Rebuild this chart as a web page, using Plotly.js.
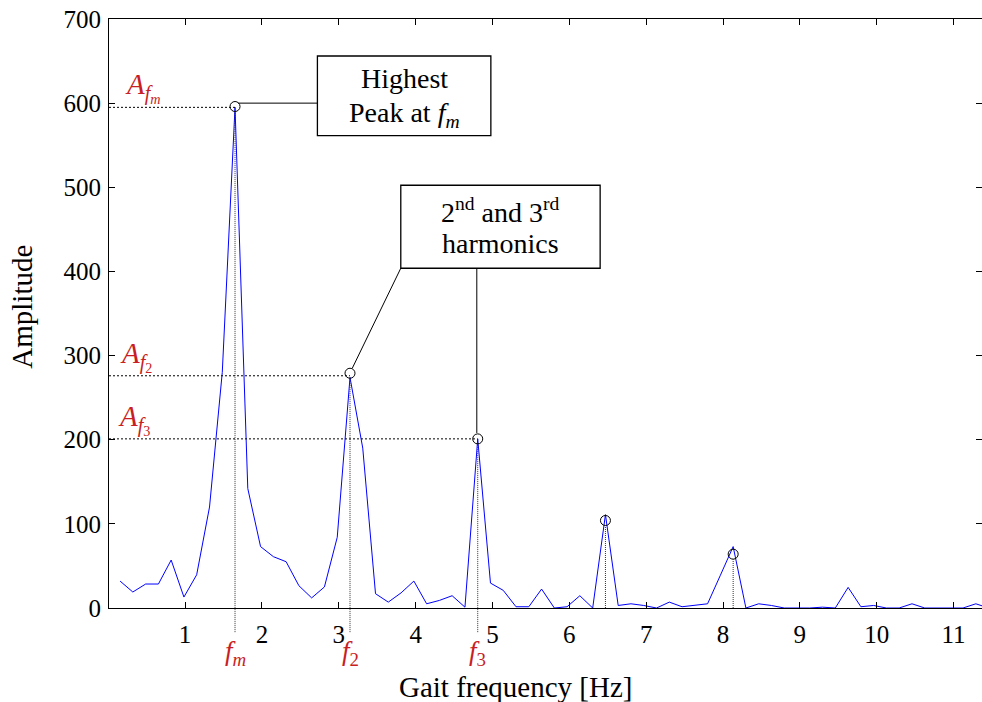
<!DOCTYPE html>
<html>
<head>
<meta charset="utf-8">
<script src="https://cdn.plot.ly/plotly-3.0.1.min.js"></script>
<style>
  html, body { margin: 0; padding: 0; background: #fff; }
  #chart { width: 982px; height: 702px; }
</style>
</head>
<body>
<div id="chart"></div>
<script>
// Gait spectrum: amplitude per frequency bin (Hz)
const freqHz = [
  0.154, 0.320, 0.487, 0.653, 0.819, 0.985, 1.151, 1.318, 1.484, 1.650,
  1.816, 1.982, 2.149, 2.315, 2.481, 2.647, 2.813, 2.980, 3.146, 3.312,
  3.478, 3.644, 3.811, 3.977, 4.143, 4.309, 4.475, 4.642, 4.808, 4.974,
  5.140, 5.306, 5.473, 5.639, 5.805, 5.971, 6.137, 6.304, 6.470, 6.636,
  6.802, 6.968, 7.135, 7.301, 7.467, 7.633, 7.799, 7.966, 8.132, 8.298,
  8.464, 8.630, 8.797, 8.963, 9.129, 9.295, 9.461, 9.628, 9.794, 9.960,
  10.126, 10.292, 10.459, 10.625, 10.791, 10.957, 11.123, 11.290, 11.456
];
const amplitude = [
  32, 19, 28.5, 28.5, 57, 13, 39.5, 120, 280, 595,
  142, 73, 61, 55, 26.5, 12, 25, 84, 274, 190,
  17, 7, 18, 32, 5, 9, 14.6, 1, 201, 29.6,
  21, 1.5, 1.5, 22.5, 0, 1.5, 14.6, 0, 111, 3,
  5, 3, 0, 7, 1.5, 3, 5, 39, 73, 0,
  5, 3, 0, 0, 0, 1, 0, 24.5, 1.5, 3,
  0, 0, 5, 0, 0, 0, 0, 5, 0
];

// Detected peaks (fundamental and harmonics)
const peakFreq = [1.650, 3.146, 4.808, 6.470, 8.132];
const peakAmp  = [596, 279, 201, 104, 64];
// Amplitude levels marked for the first three peaks
const levelAmp = [595, 276, 201];
const freqLabels = ['<i>f</i><sub><i>m</i></sub>', '<i>f</i><sub>2</sub>', '<i>f</i><sub>3</sub>'];
const ampLabels  = [
  '<i>A</i><sub><i>f</i><sub><i>m</i></sub></sub>',
  '<i>A</i><sub><i>f</i><sub>2</sub></sub>',
  '<i>A</i><sub><i>f</i><sub>3</sub></sub>'
];
const yTicks = [0, 100, 200, 300, 400, 500, 600, 700];
const xTicks = [1, 2, 3, 4, 5, 6, 7, 8, 9, 10, 11];

const SERIF = 'Times New Roman';
const RED = '#c81e24';
const xRange = [0.01, 11.37];

const traces = [
  {
    x: freqHz, y: amplitude, type: 'scatter', mode: 'lines',
    line: { color: '#0000ff', width: 1 }, hoverinfo: 'x+y'
  },
  {
    x: peakFreq, y: peakAmp, type: 'scatter', mode: 'markers',
    marker: { symbol: 'circle-open', size: 10, color: '#000', line: { width: 1, color: '#000' } },
    hoverinfo: 'x+y'
  }
];

const shapes = [];
const annotations = [];

// Dotted guides for the first three peaks: horizontal to the y axis, vertical below the x axis
for (let i = 0; i < 3; i++) {
  shapes.push({
    type: 'line', xref: 'x', yref: 'y',
    x0: xRange[0], x1: peakFreq[i], y0: levelAmp[i], y1: levelAmp[i],
    line: { color: '#000', width: 1, dash: '2px,2px' }
  });
  shapes.push({
    type: 'line', xref: 'x', yref: 'paper',
    x0: peakFreq[i], x1: peakFreq[i], y0: -0.041, y1: (peakAmp[i] - 6) / 700,
    line: { color: '#333', width: 1, dash: '1px,1px' }
  });
  annotations.push({
    xref: 'x', yref: 'paper', x: peakFreq[i], y: -0.076,
    text: freqLabels[i], showarrow: false, xanchor: 'center', yanchor: 'middle',
    font: { family: SERIF, size: 27, color: RED }
  });
}
// Amplitude labels above the dotted levels
const ampLabelX = [0.016, 0.010, 0.008];
for (let i = 0; i < 3; i++) {
  annotations.push({
    xref: 'paper', yref: 'y', x: ampLabelX[i], y: levelAmp[i],
    text: ampLabels[i], showarrow: false, xanchor: 'left', yanchor: 'bottom',
    yshift: -2,
    font: { family: SERIF, size: 29, color: RED }
  });
}
// Vertical dotted guides for the higher harmonics
for (let i = 3; i < 5; i++) {
  shapes.push({
    type: 'line', xref: 'x', yref: 'y',
    x0: peakFreq[i], x1: peakFreq[i], y0: 0, y1: peakAmp[i] - 6,
    line: { color: '#333', width: 1, dash: '1px,1px' }
  });
}

// Callout boxes
const box1 = { x0: 2.722, x1: 4.979, y0: 561.4, y1: 656 };
const box2 = { x0: 3.807, x1: 6.401, y0: 403.8, y1: 502.4 };
[box1, box2].forEach(b => shapes.push({
  type: 'rect', xref: 'x', yref: 'y', x0: b.x0, x1: b.x1, y0: b.y0, y1: b.y1,
  line: { color: '#000', width: 1.3 }, fillcolor: '#fff', layer: 'above'
}));
// Connectors from the boxes to the peak markers
shapes.push({
  type: 'line', xref: 'x', yref: 'y',
  x0: peakFreq[0] + 0.04, x1: box1.x0, y0: 600, y1: 600,
  line: { color: '#000', width: 1 }
});
shapes.push({
  type: 'line', xref: 'x', yref: 'y',
  x0: peakFreq[1] + 0.03, y0: peakAmp[1] + 6, x1: box2.x0, y1: box2.y0,
  line: { color: '#000', width: 1 }
});
shapes.push({
  type: 'line', xref: 'x', yref: 'y',
  x0: peakFreq[2] - 0.012, y0: peakAmp[2] + 7, x1: peakFreq[2] - 0.012, y1: box2.y0,
  line: { color: '#000', width: 1 }
});

const boxFont = { family: SERIF, size: 28, color: '#000' };
annotations.push(
  { xref: 'x', yref: 'y', x: (box1.x0 + box1.x1) / 2, y: 629, text: 'Highest',
    showarrow: false, xanchor: 'center', yanchor: 'middle', font: boxFont },
  { xref: 'x', yref: 'y', x: (box1.x0 + box1.x1) / 2, y: 586, text: 'Peak at <i>f</i><sub><i>m</i></sub>',
    showarrow: false, xanchor: 'center', yanchor: 'middle', font: boxFont },
  { xref: 'x', yref: 'y', x: (box2.x0 + box2.x1) / 2, y: 472, text: '2<sup>nd</sup> and 3<sup>rd</sup>',
    showarrow: false, xanchor: 'center', yanchor: 'middle', font: boxFont },
  { xref: 'x', yref: 'y', x: (box2.x0 + box2.x1) / 2, y: 433, text: 'harmonics',
    showarrow: false, xanchor: 'center', yanchor: 'middle', font: boxFont }
);

// Axis titles
annotations.push(
  { xref: 'paper', yref: 'paper', x: -0.0997, y: 0.5115, text: 'Amplitude', textangle: -90,
    showarrow: false, xanchor: 'center', yanchor: 'middle', font: { family: SERIF, size: 29, color: '#000' } },
  { xref: 'paper', yref: 'paper', x: 0.4662, y: -0.134, text: 'Gait frequency [Hz]',
    showarrow: false, xanchor: 'center', yanchor: 'middle', font: { family: SERIF, size: 29, color: '#000' } }
);

const axisCommon = {
  showline: true, linecolor: '#000', linewidth: 1, mirror: 'ticks',
  ticks: 'inside', ticklen: 6, tickwidth: 1, tickcolor: '#000',
  showgrid: false, zeroline: false,
  tickfont: { family: SERIF, size: 25, color: '#000' }
};

const layout = {
  width: 982, height: 702,
  margin: { l: 109, r: 0, t: 19, b: 94 },
  paper_bgcolor: '#fff', plot_bgcolor: '#fff',
  font: { family: SERIF, color: '#000' },
  showlegend: false,
  xaxis: Object.assign({}, axisCommon, {
    range: xRange, tickvals: xTicks, ticktext: xTicks.map(String), ticklabelstandoff: 4
  }),
  yaxis: Object.assign({}, axisCommon, {
    range: [0, 700], tickvals: yTicks, ticktext: yTicks.map(String), ticklabelstandoff: 2
  }),
  shapes: shapes,
  annotations: annotations
};

Plotly.newPlot('chart', traces, layout, { staticPlot: true });
</script>
</body>
</html>
